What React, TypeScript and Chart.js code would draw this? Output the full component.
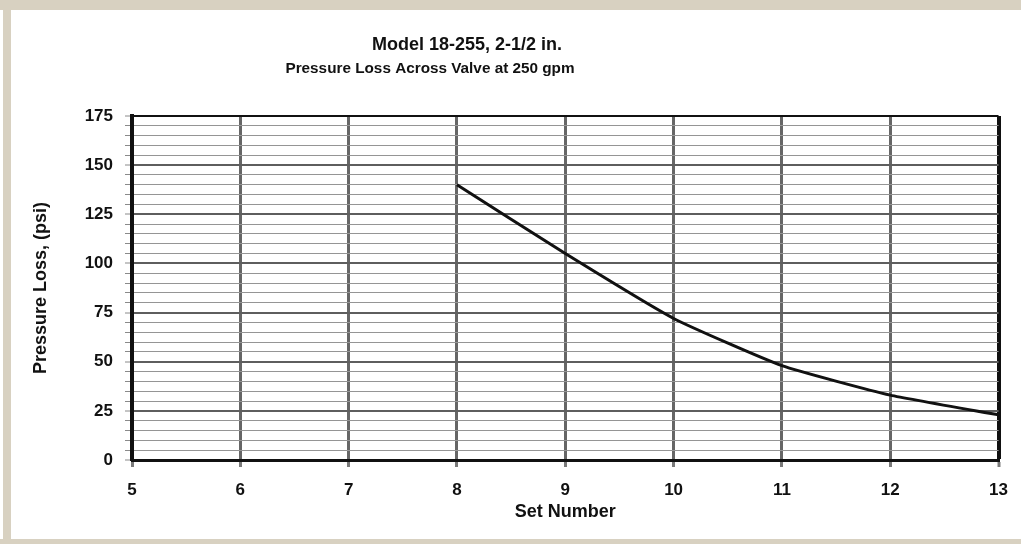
import React, { useEffect, useRef } from "react";
import { Chart, registerables } from "chart.js";

Chart.register(...registerables);

const titleText = "Model 18-255, 2-1/2 in.";
const subtitleText = "Pressure Loss Across Valve at 250 gpm";
const xAxisTitle = "Set Number";
const yAxisTitle = "Pressure Loss, (psi)";

const setNumbers = [8, 9, 10, 11, 12, 13];
const pressureLoss = [140, 105, 72, 48, 33, 23];

const xMin = 5;
const xMax = 13;
const yMin = 0;
const yMax = 175;
const yMinorStep = 5;
const yMajorStep = 25;

const FONT = '"Liberation Sans", Arial, sans-serif';

const titlePlugin = {
  id: "customTitles",
  afterDraw(chart: any) {
    const ctx = chart.ctx;
    ctx.save();
    ctx.fillStyle = "#111";
    ctx.textAlign = "center";
    ctx.textBaseline = "alphabetic";
    ctx.font = `bold 18px ${FONT}`;
    ctx.fillText(titleText, 467, 50);
    ctx.font = `bold 15.3px ${FONT}`;
    ctx.fillText(subtitleText, 430, 73);
    ctx.restore();
  },
};

export default function App() {
  const ref = useRef<HTMLCanvasElement | null>(null);

  useEffect(() => {
    if (!ref.current) return;
    const yTicks: number[] = [];
    for (let v = yMin; v <= yMax; v += yMinorStep) yTicks.push(v);
    const xTicks: number[] = [];
    for (let v = xMin; v <= xMax; v += 1) xTicks.push(v);

    const chart = new Chart(ref.current, {
      type: "line",
      data: {
        datasets: [
          {
            data: setNumbers.map((x, i) => ({ x, y: pressureLoss[i] })),
            borderColor: "#111",
            borderWidth: 3,
            pointRadius: 0,
            tension: 0.15,
            fill: false,
          },
        ],
      },
      options: {
        animation: false,
        responsive: true,
        maintainAspectRatio: false,
        layout: { padding: { top: 116, right: 22, left: 0, bottom: 0 } },
        plugins: {
          legend: { display: false },
          tooltip: { enabled: false },
          title: { display: false },
        },
        scales: {
          x: {
            type: "linear",
            min: xMin,
            max: xMax,
            afterBuildTicks: (scale: any) => {
              scale.ticks = xTicks.map((v) => ({ value: v }));
            },
            afterFit: (scale: any) => {
              scale.height = 84;
            },
            ticks: {
              autoSkip: false,
              maxRotation: 0,
              padding: 13,
              color: "#111",
              font: { family: FONT, size: 17, weight: "bold" },
            },
            grid: {
              color: (c: any) => (c.tick && c.tick.value === xMax ? "#111" : "#666666"),
              lineWidth: (c: any) => (c.tick && c.tick.value === xMax ? 4 : 3),
              tickColor: "#7a7a7a",
              tickWidth: 3,
              tickLength: 7,
            },
            border: { color: "#111", width: 3 },
            title: {
              display: true,
              text: xAxisTitle,
              color: "#111",
              font: { family: FONT, size: 18, weight: "bold" },
              padding: { top: 0, bottom: 21 },
            },
          },
          y: {
            type: "linear",
            min: yMin,
            max: yMax,
            afterBuildTicks: (scale: any) => {
              scale.ticks = yTicks.map((v) => ({ value: v }));
            },
            afterFit: (scale: any) => {
              scale.width = 132;
            },
            ticks: {
              autoSkip: false,
              padding: 12,
              color: "#111",
              font: { family: FONT, size: 17, weight: "bold" },
              callback: (v: any) => (Number(v) % yMajorStep === 0 ? String(v) : ""),
            },
            grid: {
              color: (c: any) => {
                const v = c.tick ? c.tick.value : 0;
                if (v === yMax) return "#111";
                if (v % yMajorStep === 0) return "#5e5e5e";
                return "#959595";
              },
              lineWidth: (c: any) => {
                const v = c.tick ? c.tick.value : 0;
                if (v === yMax) return 2;
                if (v % yMajorStep === 0) return 2;
                return 1;
              },
              tickColor: "#8a8a8a",
              tickWidth: 1,
              tickLength: 7,
            },
            border: { color: "#111", width: 4 },
            title: {
              display: true,
              text: yAxisTitle,
              color: "#111",
              font: { family: FONT, size: 18, weight: "bold" },
              padding: { top: 30, bottom: 0 },
            },
          },
        },
      },
      plugins: [titlePlugin],
    });
    return () => chart.destroy();
  }, []);

  return (
    <div
      style={{
        position: "absolute",
        left: 0,
        top: 0,
        width: 1021,
        height: 544,
        background: "#ffffff",
        overflow: "hidden",
      }}
    >
      <div style={{ position: "absolute", left: 0, top: 0, width: 1021, height: 10, background: "#d8d1c1" }} />
      <div style={{ position: "absolute", left: 3, top: 0, width: 8, height: 544, background: "#d8d1c1" }} />
      <div style={{ position: "absolute", left: 0, top: 539, width: 1021, height: 5, background: "#d8d1c1" }} />
      <div style={{ position: "absolute", left: 0, top: 0, width: 1021, height: 544 }}>
        <canvas ref={ref} />
      </div>
    </div>
  );
}
